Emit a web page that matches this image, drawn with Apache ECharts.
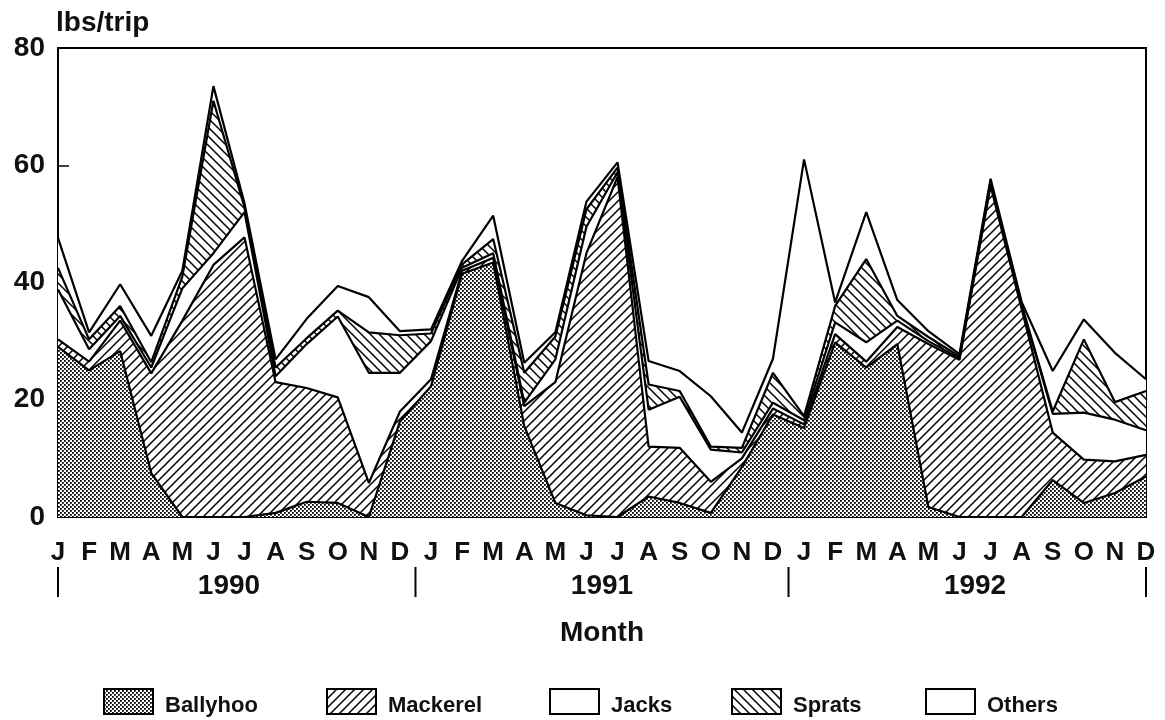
<!DOCTYPE html>
<html><head><meta charset="utf-8">
<script src="https://cdn.jsdelivr.net/npm/echarts@6/dist/echarts.min.js"></script>
<style>html,body{margin:0;padding:0;background:#fff}#c{width:1165px;height:720px}</style>
</head><body><div id="c"></div>
<script>
// ---- data ----
const years = ['1990', '1991', '1992'];
const monthLabels = ['J','F','M','A','M','J','J','A','S','O','N','D'];
const seriesNames = ['Ballyhoo', 'Mackerel', 'Jacks', 'Sprats', 'Others'];
const yTickValues = [0, 20, 40, 60, 80];

const ballyhoo = [29, 25, 28.3, 7.5, 0, 0, 0, 0.7, 2.6, 2.4, 0, 16.3,
                  22.3, 41.5, 43.4, 15.5, 2.4, 0.3, 0, 3.5, 2.4, 0.7, 8.5, 17.5,
                  15.2, 29.8, 25.5, 29.5, 1.7, 0, 0, 0, 6.3, 2.4, 4.1, 6.9];
const mackerel = [1.3, 1.5, 5.2, 17, 33.5, 43, 47.7, 22.3, 19.4, 18, 5.8, 1.7,
                  1.2, 0.5, 0.8, 3.4, 20.6, 44.7, 58, 8.5, 9.4, 5.3, 1.5, 1,
                  0.6, 1.4, 1, 2.9, 27.8, 26.8, 56.5, 35.5, 8.1, 7.4, 5.4, 3.7];
const jacks    = [8.5, 2.1, 0.8, 1, 5.5, 2, 4.3, 1, 7.5, 13.8, 18.8, 6.6,
                  6.5, 0.5, 0.8, 0.6, 3.9, 4.5, 0.8, 6.3, 8.7, 5.5, 1, 1,
                  0.7, 2, 3.3, 1.1, 0.5, 0.3, 0.5, 0.5, 3.2, 8, 7.1, 4.2];
const sprats   = [3.7, 1.7, 1.7, 0.9, 2, 26, 0.8, 1.5, 1, 1, 6.9, 6.4,
                  1.3, 0.6, 2.4, 5.1, 3.9, 3, 0.8, 4.3, 1, 0.5, 0.8, 5.1,
                  0.7, 2.8, 14.2, 0.8, 0.7, 0.3, 0.3, 0.3, 0.4, 12.5, 3, 6.7];
const others   = [5.1, 1.2, 3.7, 4.5, 1, 2.5, 0.7, 1.4, 3.3, 4.2, 6, 0.7,
                  0.7, 0.6, 4, 1.7, 0.7, 1.3, 0.9, 4, 3.4, 8.6, 2.6, 2.4,
                  43.8, 0.6, 8, 2.7, 1, 0.4, 0.4, 0.4, 6.9, 3.4, 8.4, 2];

const categories = [];
years.forEach(y => monthLabels.forEach((m, i) => categories.push(y + '|' + i + '|' + m)));

// ---- patterns ----
function tile(kind) {
  const c = document.createElement('canvas');
  const s = kind === 'dots' ? 4 : 9;
  c.width = c.height = s;
  const g = c.getContext('2d');
  g.fillStyle = '#fff'; g.fillRect(0, 0, s, s);
  g.fillStyle = '#000'; g.strokeStyle = '#000';
  if (kind === 'dots') {
    g.fillRect(0, 0, 1.8, 1.8); g.fillRect(2, 2, 1.8, 1.8);
  } else {
    g.lineWidth = 1.5; g.beginPath();
    const seg = (a, b, c2, d) => { g.moveTo(a, b); g.lineTo(c2, d); };
    if (kind === 'fwd') { seg(-1, s + 1, s + 1, -1); seg(-1, 1, 1, -1); seg(s - 1, s + 1, s + 1, s - 1); }
    else { seg(-1, -1, s + 1, s + 1); seg(s - 1, -1, s + 1, 1); seg(-1, s - 1, 1, s + 1); }
    g.stroke();
  }
  return { image: c, repeat: 'repeat' };
}
const fills = [tile('dots'), tile('fwd'), '#ffffff', tile('back'), '#ffffff'];
const dataArr = [ballyhoo, mackerel, jacks, sprats, others];

const FONT = '"Liberation Sans", Arial, Helvetica, sans-serif';
const series = [];
dataArr.forEach((d, i) => series.push({
  type: 'line', name: seriesNames[i], stack: 'area', data: d, symbol: 'none',
  lineStyle: { width: 0, opacity: 0 }, areaStyle: { color: fills[i], opacity: 1 },
  z: 2, silent: true, animation: false
}));
dataArr.forEach((d, i) => series.push({
  type: 'line', name: seriesNames[i] + ' edge', stack: 'edge', data: d, symbol: 'none',
  lineStyle: { color: '#000', width: 2.2 }, z: 3, silent: true, animation: false
}));

const chart = echarts.init(document.getElementById('c'), null, { renderer: 'canvas' });
chart.setOption({
  animation: false,
  backgroundColor: '#fff',
  grid: { left: 58, right: 19, top: 48, bottom: 203, show: true, borderColor: '#000', borderWidth: 2, backgroundColor: 'transparent' },
  xAxis: {
    type: 'category', data: categories, boundaryGap: false,
    axisLine: { lineStyle: { color: '#000', width: 2 } },
    axisTick: { inside: true, length: 7, interval: 0, lineStyle: { color: '#000', width: 1.5 } },
    axisLabel: { interval: 0, margin: 23, color: '#111', fontFamily: FONT, fontWeight: 'bold', fontSize: 26,
      formatter: v => v.split('|')[2] },
    splitLine: { show: false },
    name: 'Month', nameLocation: 'middle', nameGap: 102,
    nameTextStyle: { color: '#111', fontFamily: FONT, fontWeight: 'bold', fontSize: 28 }
  },
  yAxis: {
    type: 'value', min: yTickValues[0], max: yTickValues[yTickValues.length - 1], interval: 20,
    axisLine: { show: true, lineStyle: { color: '#000', width: 2 } },
    axisTick: { show: true, inside: true, length: 11, lineStyle: { color: '#000', width: 1.5 } },
    axisLabel: { margin: 13, color: '#111', fontFamily: FONT, fontWeight: 'bold', fontSize: 28, padding: [8, 0, 0, 0] },
    splitLine: { show: false },
    name: 'lbs/trip', nameLocation: 'end', nameGap: 11,
    nameTextStyle: { color: '#111', fontFamily: FONT, fontWeight: 'bold', fontSize: 28, align: 'left', verticalAlign: 'bottom', padding: [0, 0, 0, -2] }
  },
  series: series
});

// ---- year band, legend (layout from the axis scale) ----
const x0 = chart.convertToPixel({ xAxisIndex: 0 }, 0);
const x1 = chart.convertToPixel({ xAxisIndex: 0 }, 1);
const step = x1 - x0;
const graphics = [];
const sepIdx = [0, 11.5, 23.5, 35];
sepIdx.forEach(k => graphics.push({ type: 'line', shape: { x1: x0 + step * k, y1: 567, x2: x0 + step * k, y2: 597 }, style: { stroke: '#000', lineWidth: 2 } }));
years.forEach((y, i) => graphics.push({ type: 'text', x: x0 + step * (5.5 + 12 * i), y: 586,
  style: { text: y, fill: '#111', font: 'bold 28px ' + FONT, textAlign: 'center', textVerticalAlign: 'middle' } }));
const legX = [104, 327, 550, 732, 926];
seriesNames.forEach((n, i) => {
  graphics.push({ type: 'rect', shape: { x: legX[i], y: 689, width: 49, height: 25 },
    style: { fill: fills[i], stroke: '#000', lineWidth: 2 } });
  graphics.push({ type: 'text', x: legX[i] + 61, y: 706,
    style: { text: n, fill: '#111', font: 'bold 22px ' + FONT, textAlign: 'left', textVerticalAlign: 'middle' } });
});
chart.setOption({ graphic: graphics });
</script>
</body></html>
